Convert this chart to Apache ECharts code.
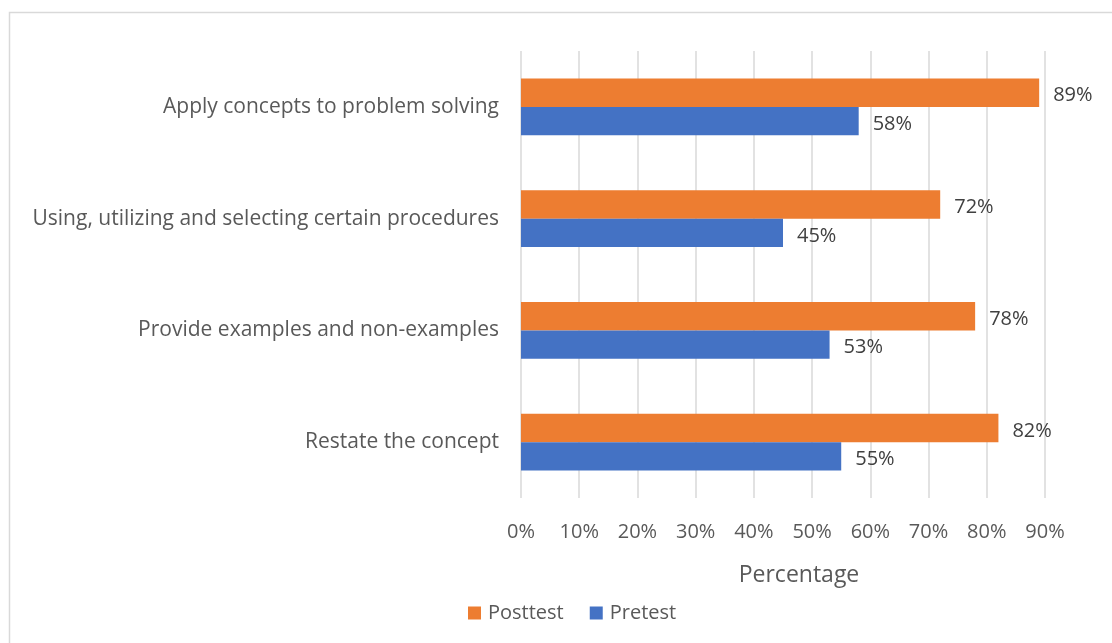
<!DOCTYPE html>
<html>
<head>
<meta charset="utf-8">
<script src="https://cdn.jsdelivr.net/npm/echarts@6/dist/echarts.min.js"></script>
<style>
  html, body { margin: 0; padding: 0; background: #ffffff; }
  #chart { width: 1112px; height: 643px; }
</style>
</head>
<body>
<div id="chart"></div>
<script>
// Skill categories, listed bottom to top as they appear on the y axis
const categories = [
  'Restate the concept',
  'Provide examples and non-examples',
  'Using, utilizing and selecting certain procedures',
  'Apply concepts to problem solving'
];
// Percent of students, per category
const posttest = [82, 78, 72, 89];
const pretest = [55, 53, 45, 58];
// X axis ticks (percent)
const xTicks = [0, 10, 20, 30, 40, 50, 60, 70, 80, 90];

const FONT = '"Open Sans", Lato, sans-serif';
const TEXT = '#595959';

const chart = echarts.init(document.getElementById('chart'), null, { renderer: 'canvas' });

const valueLabel = {
  show: true, position: 'right', distance: 14,
  offset: [0, 3],
  color: '#404040', fontSize: 20, fontFamily: FONT,
  formatter: p => p.value + '%'
};

chart.setOption({
  backgroundColor: '#ffffff',
  animation: false,
  graphic: [{
    type: 'rect',
    shape: { x: 9.5, y: 12.5, width: 1200, height: 700 },
    style: { fill: 'none', stroke: '#d9d9d9', lineWidth: 1.5 },
    silent: true
  }],
  grid: { left: 521, right: 67, top: 51, bottom: 145, containLabel: false },
  legend: {
    bottom: 15,
    left: 463,
    itemWidth: 13,
    itemHeight: 13,
    itemGap: 26,
    icon: 'rect',
    textStyle: { color: TEXT, fontSize: 20, fontFamily: FONT, padding: [0, 0, 0, 2] },
    data: ['Posttest', 'Pretest']
  },
  xAxis: {
    type: 'value',
    min: xTicks[0],
    max: xTicks[xTicks.length - 1],
    interval: 10,
    name: 'Percentage',
    nameLocation: 'middle',
    nameGap: 66,
    nameTextStyle: { color: TEXT, fontSize: 23, fontFamily: FONT, padding: [0, 0, 0, 32] },
    axisLine: { show: false },
    axisTick: { show: false },
    axisLabel: { color: TEXT, fontSize: 20, fontFamily: FONT, margin: 24, formatter: v => v + '%' },
    splitLine: { show: true, lineStyle: { color: '#d9d9d9', width: 1.5 } }
  },
  yAxis: {
    type: 'category',
    data: categories,
    axisLine: { show: false },
    axisTick: { show: false },
    axisLabel: { color: TEXT, fontSize: 21, fontFamily: FONT, margin: 22 },
    splitLine: { show: false }
  },
  series: [
    {
      name: 'Posttest',
      type: 'bar',
      data: posttest,
      itemStyle: { color: '#ed7d31' },
      barGap: '0%',
      barCategoryGap: '49%',
      label: valueLabel
    },
    {
      name: 'Pretest',
      type: 'bar',
      data: pretest,
      itemStyle: { color: '#4472c4' },
      barGap: '0%',
      barCategoryGap: '49%',
      label: valueLabel
    }
  ]
});
</script>
</body>
</html>
